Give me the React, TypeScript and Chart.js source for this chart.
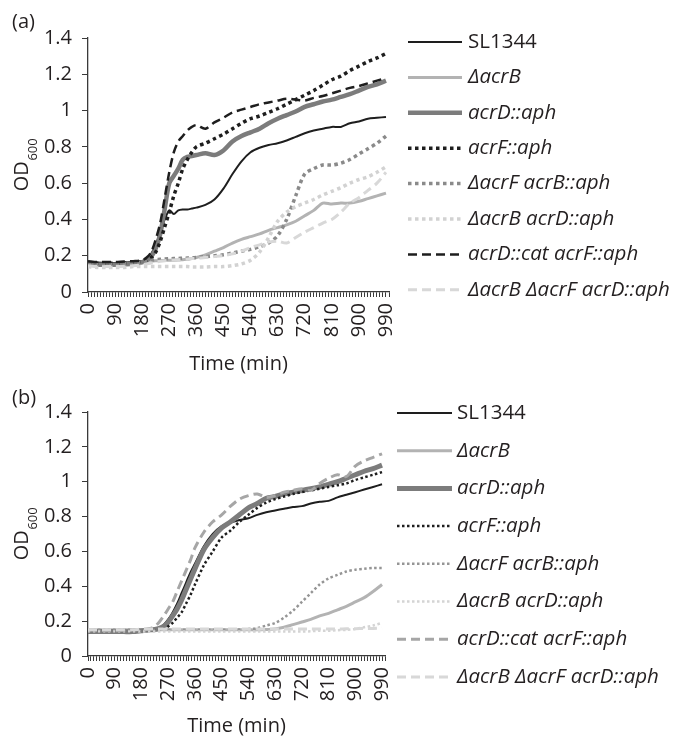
import React, { useEffect, useRef } from 'react';
import { Chart, registerables } from 'chart.js';

Chart.register(...registerables);

const FONT = '"Open Sans", "DejaVu Sans", sans-serif';
const TEXT = '#231f20';

// ---- shared data ----
const TIMES = [0, 30, 60, 90, 120, 150, 180, 195, 210, 225, 240, 255, 270, 285, 300, 315, 330, 345, 360, 390, 420, 450, 480, 510, 540, 570, 600, 630, 660, 690, 720, 750, 780, 810, 840, 870, 900, 930, 960, 990];
const SERIES_LABELS = ['SL1344', 'ΔacrB', 'acrD::aph', 'acrF::aph', 'ΔacrF acrB::aph', 'ΔacrB acrD::aph', 'acrD::cat acrF::aph', 'ΔacrB ΔacrF acrD::aph'];
const LABEL_ITALIC = [false, true, true, true, true, true, true, true];
const X_LABEL_VALUES = [0, 90, 180, 270, 360, 450, 540, 630, 720, 810, 900, 990];
const Y_TICK_VALUES = [0, 0.2, 0.4, 0.6, 0.8, 1, 1.2, 1.4];

// ---- panel (a) ----
const A_SL1344 = [0.165, 0.162, 0.16, 0.16, 0.162, 0.165, 0.17, 0.18, 0.21, 0.26, 0.33, 0.40, 0.45, 0.43, 0.45, 0.455, 0.455, 0.46, 0.465, 0.48, 0.51, 0.57, 0.65, 0.72, 0.77, 0.795, 0.81, 0.82, 0.835, 0.855, 0.875, 0.89, 0.90, 0.91, 0.91, 0.93, 0.94, 0.955, 0.96, 0.965];
const A_DACRB = [0.15, 0.148, 0.15, 0.15, 0.152, 0.155, 0.16, 0.165, 0.17, 0.172, 0.173, 0.174, 0.175, 0.175, 0.176, 0.178, 0.18, 0.185, 0.19, 0.205, 0.225, 0.245, 0.27, 0.29, 0.305, 0.32, 0.34, 0.355, 0.37, 0.39, 0.42, 0.45, 0.49, 0.485, 0.49, 0.49, 0.50, 0.515, 0.53, 0.545];
const A_ACRD = [0.155, 0.15, 0.15, 0.15, 0.152, 0.155, 0.165, 0.175, 0.195, 0.24, 0.32, 0.46, 0.60, 0.64, 0.68, 0.73, 0.745, 0.75, 0.755, 0.765, 0.755, 0.78, 0.83, 0.86, 0.88, 0.90, 0.93, 0.955, 0.975, 0.995, 1.02, 1.035, 1.05, 1.06, 1.075, 1.09, 1.11, 1.13, 1.145, 1.165];
const A_ACRF = [0.16, 0.158, 0.158, 0.158, 0.16, 0.162, 0.168, 0.175, 0.19, 0.22, 0.28, 0.36, 0.44, 0.53, 0.60, 0.68, 0.73, 0.77, 0.80, 0.82, 0.845, 0.87, 0.90, 0.93, 0.955, 0.97, 0.99, 1.01, 1.035, 1.06, 1.085, 1.11, 1.14, 1.17, 1.19, 1.22, 1.245, 1.27, 1.29, 1.315];
const A_DACRF_ACRB = [0.155, 0.15, 0.15, 0.152, 0.155, 0.16, 0.165, 0.17, 0.175, 0.178, 0.18, 0.182, 0.183, 0.184, 0.185, 0.186, 0.187, 0.188, 0.19, 0.195, 0.20, 0.205, 0.215, 0.225, 0.235, 0.25, 0.27, 0.31, 0.40, 0.53, 0.65, 0.68, 0.70, 0.70, 0.71, 0.73, 0.76, 0.79, 0.82, 0.86];
const A_DACRB_ACRD = [0.14, 0.135, 0.135, 0.135, 0.135, 0.14, 0.14, 0.14, 0.14, 0.14, 0.14, 0.14, 0.14, 0.14, 0.14, 0.14, 0.14, 0.138, 0.138, 0.138, 0.14, 0.14, 0.145, 0.155, 0.175, 0.22, 0.30, 0.39, 0.44, 0.47, 0.49, 0.51, 0.535, 0.555, 0.575, 0.60, 0.62, 0.635, 0.66, 0.69];
const A_ACRD_ACRF = [0.17, 0.165, 0.165, 0.165, 0.168, 0.17, 0.175, 0.19, 0.22, 0.29, 0.38, 0.52, 0.66, 0.77, 0.83, 0.86, 0.89, 0.91, 0.92, 0.90, 0.935, 0.96, 0.99, 1.005, 1.02, 1.035, 1.045, 1.055, 1.065, 1.06, 1.055, 1.07, 1.08, 1.095, 1.11, 1.125, 1.135, 1.15, 1.165, 1.18];
const A_DDACRD = [0.145, 0.14, 0.14, 0.14, 0.142, 0.145, 0.15, 0.155, 0.16, 0.165, 0.17, 0.172, 0.175, 0.177, 0.178, 0.18, 0.182, 0.184, 0.186, 0.19, 0.195, 0.20, 0.21, 0.225, 0.245, 0.26, 0.275, 0.28, 0.27, 0.30, 0.33, 0.355, 0.38, 0.40, 0.44, 0.49, 0.52, 0.56, 0.60, 0.66];

// ---- panel (b) ----
const B_SL1344 = [0.14, 0.14, 0.14, 0.14, 0.14, 0.14, 0.145, 0.148, 0.15, 0.152, 0.16, 0.18, 0.21, 0.25, 0.30, 0.36, 0.42, 0.48, 0.53, 0.63, 0.70, 0.745, 0.765, 0.78, 0.79, 0.81, 0.825, 0.835, 0.845, 0.855, 0.86, 0.875, 0.885, 0.89, 0.91, 0.925, 0.94, 0.955, 0.97, 0.985];
const B_DACRB = [0.145, 0.15, 0.15, 0.15, 0.15, 0.15, 0.15, 0.15, 0.15, 0.15, 0.15, 0.15, 0.15, 0.15, 0.15, 0.15, 0.15, 0.15, 0.15, 0.15, 0.15, 0.15, 0.15, 0.15, 0.15, 0.15, 0.152, 0.155, 0.165, 0.18, 0.195, 0.21, 0.23, 0.245, 0.265, 0.285, 0.31, 0.335, 0.37, 0.41];
const B_ACRD = [0.14, 0.14, 0.14, 0.14, 0.14, 0.14, 0.145, 0.148, 0.15, 0.152, 0.158, 0.17, 0.195, 0.23, 0.27, 0.32, 0.38, 0.44, 0.50, 0.61, 0.68, 0.735, 0.77, 0.81, 0.85, 0.875, 0.905, 0.915, 0.93, 0.94, 0.95, 0.96, 0.97, 0.985, 1.0, 1.02, 1.04, 1.06, 1.075, 1.095];
const B_ACRF = [0.14, 0.14, 0.14, 0.14, 0.14, 0.14, 0.145, 0.146, 0.148, 0.149, 0.15, 0.155, 0.17, 0.19, 0.22, 0.25, 0.30, 0.35, 0.41, 0.52, 0.60, 0.68, 0.72, 0.77, 0.81, 0.85, 0.88, 0.90, 0.915, 0.93, 0.94, 0.95, 0.96, 0.97, 0.98, 0.99, 1.01, 1.025, 1.04, 1.055];
const B_DACRF_ACRB = [0.145, 0.15, 0.15, 0.15, 0.15, 0.15, 0.15, 0.15, 0.15, 0.15, 0.15, 0.15, 0.15, 0.15, 0.15, 0.15, 0.15, 0.15, 0.15, 0.15, 0.15, 0.15, 0.15, 0.152, 0.155, 0.16, 0.175, 0.19, 0.22, 0.26, 0.31, 0.36, 0.41, 0.445, 0.465, 0.485, 0.495, 0.50, 0.505, 0.505];
const B_DACRB_ACRD = [0.14, 0.14, 0.14, 0.14, 0.14, 0.14, 0.14, 0.14, 0.14, 0.14, 0.14, 0.14, 0.14, 0.14, 0.14, 0.14, 0.14, 0.14, 0.14, 0.14, 0.14, 0.14, 0.14, 0.14, 0.14, 0.14, 0.14, 0.14, 0.14, 0.14, 0.14, 0.142, 0.145, 0.145, 0.148, 0.15, 0.155, 0.165, 0.175, 0.19];
const B_ACRD_ACRF = [0.15, 0.148, 0.145, 0.145, 0.148, 0.15, 0.15, 0.152, 0.158, 0.17, 0.195, 0.23, 0.27, 0.31, 0.37, 0.43, 0.49, 0.55, 0.62, 0.71, 0.77, 0.81, 0.86, 0.90, 0.92, 0.93, 0.91, 0.92, 0.94, 0.95, 0.96, 0.95, 0.99, 1.02, 1.04, 1.03, 1.09, 1.12, 1.14, 1.16];
const B_DDACRD = [0.15, 0.15, 0.15, 0.15, 0.15, 0.15, 0.155, 0.155, 0.155, 0.155, 0.155, 0.155, 0.155, 0.155, 0.155, 0.155, 0.155, 0.155, 0.155, 0.155, 0.155, 0.155, 0.155, 0.155, 0.155, 0.155, 0.155, 0.155, 0.155, 0.155, 0.155, 0.155, 0.155, 0.155, 0.155, 0.156, 0.157, 0.158, 0.158, 0.16];

type LineStyle = { color: string; width: number; dash: number[] };

const STYLES_A: LineStyle[] = [
  { color: '#1e1e1e', width: 2, dash: [] },
  { color: '#b3b3b3', width: 3, dash: [] },
  { color: '#7c7c7c', width: 4.5, dash: [] },
  { color: '#1e1e1e', width: 3.5, dash: [3.5, 3.5] },
  { color: '#8a8a8a', width: 3.5, dash: [3.5, 3.5] },
  { color: '#d2d2d2', width: 3.5, dash: [3.5, 3.5] },
  { color: '#1e1e1e', width: 2.5, dash: [9, 5] },
  { color: '#d8d8d8', width: 3, dash: [9, 5] },
];

const STYLES_B: LineStyle[] = [
  { color: '#1e1e1e', width: 2, dash: [] },
  { color: '#b3b3b3', width: 3, dash: [] },
  { color: '#7c7c7c', width: 5, dash: [] },
  { color: '#1e1e1e', width: 2.5, dash: [2.5, 2.5] },
  { color: '#959595', width: 2.5, dash: [2.5, 2.5] },
  { color: '#d4d4d4', width: 2.5, dash: [2.5, 2.5] },
  { color: '#a6a6a6', width: 3, dash: [9, 5] },
  { color: '#d8d8d8', width: 3, dash: [9, 5] },
];

type PanelCfg = {
  tag: string;
  series: number[][];
  styles: LineStyle[];
  height: number;
  top: number;
  padTop: number;
  padRight: number;
  xHeight: number;
  titlePadBottom: number;
  tagY: number;
  legend: { x0: number; x1: number; tx: number; y0: number; gap: number };
};

const decorPlugin = {
  id: 'decor',
  afterDraw(chart: any, _args: any, opts: any) {
    const ctx = chart.ctx as CanvasRenderingContext2D;
    const ca = chart.chartArea;
    ctx.save();
    ctx.fillStyle = TEXT;
    ctx.textAlign = 'left';
    ctx.textBaseline = 'middle';
    ctx.font = `20px ${FONT}`;
    ctx.fillText(opts.tag, 12, opts.tagY);

    // y axis title: OD with subscript 600
    const big = `20px ${FONT}`;
    const small = `13px ${FONT}`;
    ctx.font = big;
    const w1 = ctx.measureText('OD').width;
    ctx.font = small;
    const w2 = ctx.measureText('600').width;
    const cy = (ca.top + ca.bottom) / 2;
    ctx.translate(28, cy);
    ctx.rotate(-Math.PI / 2);
    ctx.textBaseline = 'alphabetic';
    const start = -(w1 + w2) / 2;
    ctx.font = big;
    ctx.fillText('OD', start, 0);
    ctx.font = small;
    ctx.fillText('600', start + w1 + 0.5, 9);
    ctx.restore();

    // legend
    const lg = opts.legend;
    chart.data.datasets.forEach((ds: any, i: number) => {
      const y = lg.y0 + i * lg.gap;
      ctx.save();
      ctx.strokeStyle = ds.borderColor;
      ctx.lineWidth = ds.borderWidth;
      ctx.setLineDash(ds.borderDash || []);
      ctx.lineCap = 'butt';
      ctx.beginPath();
      ctx.moveTo(lg.x0, y);
      ctx.lineTo(lg.x1, y);
      ctx.stroke();
      ctx.fillStyle = TEXT;
      ctx.font = `${LABEL_ITALIC[i] ? 'italic ' : ''}20.5px ${FONT}`;
      ctx.textBaseline = 'middle';
      ctx.textAlign = 'left';
      ctx.fillText(ds.label, lg.tx, y);
      ctx.restore();
    });
  },
};

function Panel({ cfg }: { cfg: PanelCfg }) {
  const ref = useRef<HTMLCanvasElement | null>(null);
  useEffect(() => {
    if (!ref.current) return;
    const datasets = cfg.series.map((vals, i) => ({
      label: SERIES_LABELS[i],
      data: TIMES.map((t, j) => ({ x: t, y: vals[j] })),
      borderColor: cfg.styles[i].color,
      borderWidth: cfg.styles[i].width,
      borderDash: cfg.styles[i].dash,
      borderCapStyle: 'butt',
      pointRadius: 0,
      tension: 0.3,
      fill: false,
      order: SERIES_LABELS.length - i,
    }));
    const chart = new Chart(ref.current, {
      type: 'line',
      data: { datasets },
      plugins: [decorPlugin as any],
      options: {
        animation: false,
        responsive: false,
        maintainAspectRatio: false,
        layout: { padding: { left: 0, top: cfg.padTop, right: cfg.padRight, bottom: 0 } },
        plugins: {
          legend: { display: false },
          tooltip: { enabled: false },
          decor: { tag: cfg.tag, tagY: cfg.tagY, legend: cfg.legend },
        } as any,
        scales: {
          x: {
            type: 'linear',
            min: 0,
            max: 1000,
            afterFit: (s: any) => {
              s.height = cfg.xHeight;
              s.paddingLeft = 0;
              s.paddingRight = 0;
            },
            afterBuildTicks: (s: any) => {
              const arr = [];
              for (let v = 0; v <= 1000; v += 10) arr.push({ value: v });
              s.ticks = arr;
            },
            ticks: {
              autoSkip: false,
              minRotation: 90,
              maxRotation: 90,
              padding: 6,
              color: TEXT,
              font: { family: FONT, size: 20 },
              callback: (v: any) => (X_LABEL_VALUES.includes(Number(v)) ? String(v) : ''),
            },
            grid: { drawOnChartArea: false, drawTicks: true, tickLength: 5, color: '#3a3a3a', lineWidth: 1 },
            border: { display: true, color: '#3a3a3a', width: 1.3 },
            title: {
              display: true,
              text: 'Time (min)',
              color: TEXT,
              font: { family: FONT, size: 20 },
              padding: { top: 0, bottom: cfg.titlePadBottom },
            },
          },
          y: {
            type: 'linear',
            min: 0,
            max: 1.4,
            afterFit: (s: any) => {
              s.width = 88;
              s.paddingTop = 0;
              s.paddingBottom = 0;
            },
            afterBuildTicks: (s: any) => {
              s.ticks = Y_TICK_VALUES.map((v) => ({ value: v }));
            },
            ticks: {
              padding: 10,
              color: TEXT,
              font: { family: FONT, size: 20 },
              callback: (v: any) => String(Math.round(Number(v) * 10) / 10),
            },
            grid: { drawOnChartArea: false, drawTicks: true, tickLength: 6, color: '#3a3a3a', lineWidth: 1 },
            border: { display: true, color: '#3a3a3a', width: 1.3 },
          },
        },
      } as any,
    });
    return () => chart.destroy();
  }, [cfg]);
  return (
    <canvas
      ref={ref}
      width={687}
      height={cfg.height}
      style={{ position: 'absolute', left: 0, top: cfg.top, width: 687, height: cfg.height, display: 'block' }}
    />
  );
}

const PANEL_A: PanelCfg = {
  tag: '(a)',
  series: [A_SL1344, A_DACRB, A_ACRD, A_ACRF, A_DACRF_ACRB, A_DACRB_ACRD, A_ACRD_ACRF, A_DDACRD],
  styles: STYLES_A,
  height: 385,
  top: 0,
  padTop: 38,
  padRight: 298,
  xHeight: 93,
  titlePadBottom: 9,
  tagY: 22,
  legend: { x0: 408, x1: 462, tx: 468, y0: 42, gap: 35.4 },
};

const PANEL_B: PanelCfg = {
  tag: '(b)',
  series: [B_SL1344, B_DACRB, B_ACRD, B_ACRF, B_DACRF_ACRB, B_DACRB_ACRD, B_ACRD_ACRF, B_DDACRD],
  styles: STYLES_B,
  height: 354,
  top: 385,
  padTop: 27,
  padRight: 302,
  xHeight: 83,
  titlePadBottom: 1,
  tagY: 13,
  legend: { x0: 397, x1: 452, tx: 457, y0: 28, gap: 37.7 },
};

export default function App() {
  return (
    <div style={{ position: 'absolute', left: 0, top: 0, width: 687, height: 739, background: '#fff', overflow: 'hidden' }}>
      <Panel cfg={PANEL_A} />
      <Panel cfg={PANEL_B} />
    </div>
  );
}
